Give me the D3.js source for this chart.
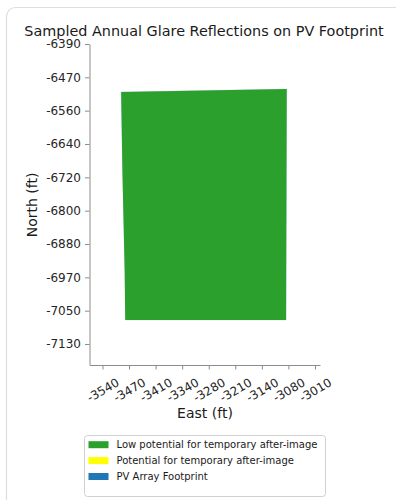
<!DOCTYPE html>
<html>
<head>
<meta charset="utf-8">
<script src="https://cdn.jsdelivr.net/npm/d3@7/dist/d3.min.js"></script>
<style>
  html, body { margin: 0; padding: 0; background: #fff; }
  svg { display: block; font-family: "DejaVu Sans", sans-serif; }
</style>
</head>
<body>
<svg id="chart" width="396" height="500"></svg>
<script>
// ---- data ----
const xTickValues = [-3540, -3473.8, -3407.5, -3341.3, -3275, -3208.8, -3142.5, -3076.3, -3010];
const xTickLabels = ["-3540", "-3470", "-3410", "-3340", "-3280", "-3210", "-3140", "-3080", "-3010"];
const yTickValues = [-6390, -6472.2, -6554.4, -6636.7, -6718.9, -6801.1, -6883.3, -6965.6, -7047.8, -7130];
const yTickLabels = ["-6390", "-6470", "-6560", "-6640", "-6720", "-6800", "-6880", "-6970", "-7050", "-7130"];
const xDomain = [-3572.4, -2997.5];
const yDomain = [-7181.8, -6390];

// PV array footprint polygon (East, North)
const footprintEast  = [-3494.4, -3079.6, -3081.4, -3482.6];
const footprintNorth = [-6507.6, -6500.2, -7071.6, -7071.6];
// Low potential glare region polygon (East, North)
const glareEast  = [-3493.4, -3080.5, -3082.2, -3483.4, -3484.6, -3487.4, -3490.2, -3492.6];
const glareNorth = [-6508.4, -6501.0, -7070.8, -7070.8, -6950.0, -6830.0, -6710.0, -6560.0];

const legendLabels = ["Low potential for temporary after-image", "Potential for temporary after-image", "PV Array Footprint"];
const legendColors = ["#2ca02c", "#ffff00", "#1f77b4"];

const titleText = "Sampled Annual Glare Reflections on PV Footprint";
const xLabel = "East (ft)";
const yLabel = "North (ft)";

// ---- drawing ----
const svg = d3.select("#chart");

// card
svg.append("rect")
  .attr("x", 6.5).attr("y", 7.5).attr("width", 430).attr("height", 520)
  .attr("rx", 9).attr("fill", "#fff").attr("stroke", "#dedede").attr("stroke-width", 1.2);

const plotL = 89.5, plotR = 320, plotT = 44, plotB = 365;
const x = d3.scaleLinear().domain(xDomain).range([plotL, plotR]);
const y = d3.scaleLinear().domain(yDomain).range([plotB, plotT]);

const line = d3.line().x(d => x(d[0])).y(d => y(d[1]));
const fp = footprintEast.map((e, i) => [e, footprintNorth[i]]);
const gl = glareEast.map((e, i) => [e, glareNorth[i]]);

svg.append("path").attr("d", line(fp) + "Z").attr("fill", "#1f77b4").attr("fill-opacity", 0.3);
svg.append("path").attr("d", line(gl) + "Z").attr("fill", "#2ca02c");

// axes
const axisColor = "#8c8c8c";
const yAxis = svg.append("g").attr("transform", `translate(${plotL},0)`)
  .call(d3.axisLeft(y).tickValues(yTickValues).tickFormat((d, i) => yTickLabels[i])
    .tickSize(4.5).tickSizeOuter(0).tickPadding(4));
const xAxis = svg.append("g").attr("transform", `translate(0,${plotB})`)
  .call(d3.axisBottom(x).tickValues(xTickValues).tickFormat((d, i) => xTickLabels[i])
    .tickSize(4.5).tickSizeOuter(0));

[yAxis, xAxis].forEach(g => {
  g.select(".domain").attr("stroke", axisColor).attr("stroke-width", 1);
  g.selectAll(".tick line").attr("stroke", axisColor).attr("stroke-width", 1);
  g.selectAll(".tick text").attr("fill", "#262626")
    .style("font-family", "DejaVu Sans").style("font-size", "12px");
});
xAxis.selectAll(".tick text")
  .attr("y", 0).attr("dy", "0.35em").attr("text-anchor", "middle")
  .attr("transform", "translate(0,25) rotate(-30)");

// title & labels
svg.append("text").attr("x", 204).attr("y", 35.5).attr("text-anchor", "middle")
  .attr("fill", "#1a1a1a").style("font-size", "14.4px").text(titleText);
svg.append("text").attr("x", 205).attr("y", 418).attr("text-anchor", "middle")
  .attr("fill", "#1a1a1a").style("font-size", "14px").text(xLabel);
svg.append("text").attr("transform", "translate(36.5,205) rotate(-90)").attr("text-anchor", "middle")
  .attr("fill", "#1a1a1a").style("font-size", "14px").text(yLabel);

// legend
const lg = svg.append("g");
lg.append("rect").attr("x", 84.5).attr("y", 435.5).attr("width", 241).attr("height", 61)
  .attr("rx", 3).attr("fill", "#fff").attr("stroke", "#d0d0d0");
const baselines = [447.7, 463.6, 479.5];
legendLabels.forEach((lab, i) => {
  lg.append("rect").attr("x", 88.5).attr("y", baselines[i] - 6.5).attr("width", 20).attr("height", 7)
    .attr("fill", legendColors[i]);
  lg.append("text").attr("x", 116.5).attr("y", baselines[i]).attr("fill", "#1a1a1a")
    .style("font-size", "10px").text(lab);
});
</script>
</body>
</html>
